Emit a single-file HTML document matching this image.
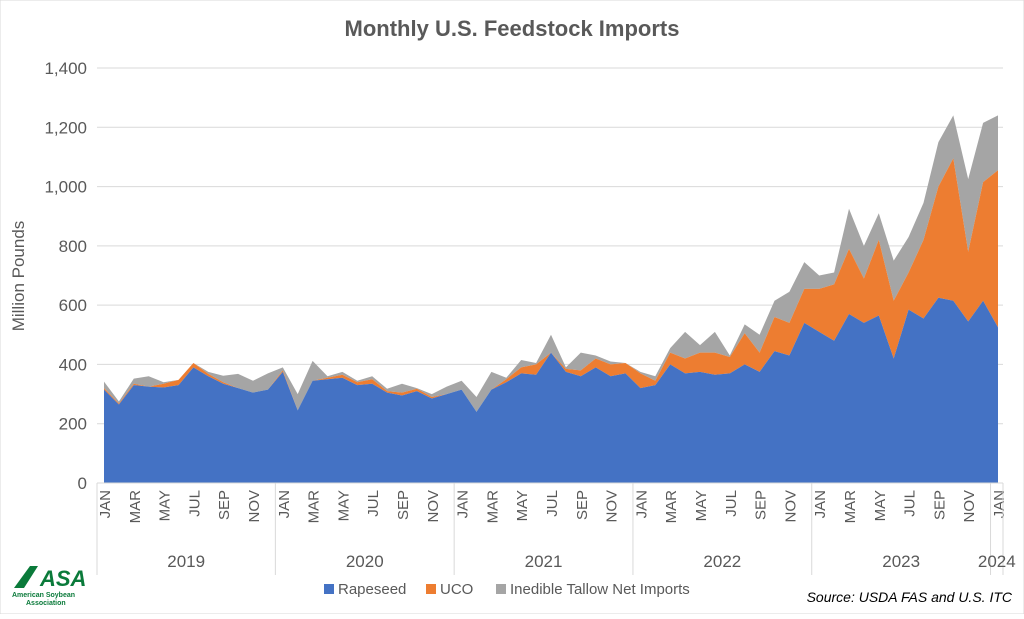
<!DOCTYPE html>
<html><head><meta charset="utf-8">
<style>
body{margin:0;background:#fff;font-family:"Liberation Sans",sans-serif;}
svg text{font-family:"Liberation Sans",sans-serif;fill:#595959;}
</style></head>
<body>
<svg width="1024" height="614" viewBox="0 0 1024 614">
<rect x="0" y="0" width="1024" height="614" fill="#fff" stroke="#d9d9d9"/>
<text x="512" y="36" text-anchor="middle" font-size="22" font-weight="bold">Monthly U.S. Feedstock Imports</text>
<text transform="translate(24,276) rotate(-90)" text-anchor="middle" font-size="17">Million Pounds</text>
<g id="grid"></g><g id="areas"></g><g id="axes"></g>
<g>
<rect x="324" y="584" width="10" height="10" fill="#4472c4"/>
<text x="338" y="594" font-size="15">Rapeseed</text>
<rect x="426" y="584" width="10" height="10" fill="#ed7d31"/>
<text x="440" y="594" font-size="15">UCO</text>
<rect x="496" y="584" width="10" height="10" fill="#a5a5a5"/>
<text x="510" y="594" font-size="15">Inedible Tallow Net Imports</text>
</g>
<text x="1012" y="602" text-anchor="end" font-size="14" font-style="italic" style="fill:#000">Source: USDA FAS and U.S. ITC</text>
<g>
<polygon points="14,588 30,566 38,566 24,588" fill="#0a7a3a"/>
<text x="40" y="586" font-size="22" font-weight="bold" font-style="italic" style="fill:#0a7a3a">ASA</text>
<text x="12" y="597" font-size="7" font-weight="bold" style="fill:#0a7a3a">American Soybean</text>
<text x="26" y="605" font-size="7" font-weight="bold" style="fill:#0a7a3a">Association</text>
</g>
</svg>
<script>
const months=["JAN","FEB","MAR","APR","MAY","JUN","JUL","AUG","SEP","OCT","NOV","DEC"];
const years=["2019","2020","2021","2022","2023"];
const yTicks=[0,200,400,600,800,1000,1200,1400];
const rapeseed=[315,265,330,325,322,330,390,360,335,320,305,315, 375,245,345,350,355,330,335,305,295,310,285,300, 315,240,315,340,370,365,440,375,360,390,360,370, 320,330,400,370,375,365,370,400,375,445,430,540, 510,480,570,540,565,420,585,555,625,615,545,615, 525];
const uco=[5,3,5,0,13,18,15,8,5,0,0,0, 5,0,0,5,10,10,15,5,10,8,5,0, 0,0,0,10,20,35,0,10,20,30,40,35, 50,15,40,50,65,75,55,105,65,115,110,115, 145,190,220,150,255,195,125,265,375,480,235,400, 530];
const tallow=[22,7,17,35,5,0,0,7,22,48,40,55, 10,55,67,5,10,5,10,8,30,2,10,25, 30,50,60,5,25,5,60,5,60,10,10,0, 5,15,15,90,25,70,5,30,60,55,105,90, 45,40,135,110,90,135,120,125,150,145,245,200, 185];
const NS="http://www.w3.org/2000/svg";
const x0=104,step=14.9,yBase=483,yTop=68,yMax=1400;
const X=i=>x0+i*step;
const Y=v=>yBase-(v/yMax)*(yBase-yTop);
function mk(tag,attrs,parent){const e=document.createElementNS(NS,tag);for(const k in attrs)e.setAttribute(k,attrs[k]);parent.appendChild(e);return e;}
const grid=document.getElementById('grid'),areas=document.getElementById('areas'),axes=document.getElementById('axes');
yTicks.forEach(t=>{
 const l=mk('line',{x1:97,x2:1003,y1:Y(t),y2:Y(t),stroke:'#d9d9d9','stroke-width':1},grid);
 
 
 const tx=mk('text',{x:87,y:Y(t)+6,'text-anchor':'end','font-size':17},grid);
 tx.textContent=t.toLocaleString('en-US');
 
 
});
const n=rapeseed.length;
const s1=rapeseed.slice(),s2=rapeseed.map((v,i)=>v+uco[i]),s3=s2.map((v,i)=>v+tallow[i]);
function area(top,bottom,color,name){
 let d='M'+X(0)+','+Y(top[0]);
 for(let i=1;i<n;i++)d+=' L'+X(i)+','+Y(top[i]);
 for(let i=n-1;i>=0;i--)d+=' L'+X(i)+','+Y(bottom?bottom[i]:0);
 const p=mk('path',{d:d+'Z',fill:color},areas);
 
 
}
area(s3,s2,'#a5a5a5','area-tallow');
area(s2,s1,'#ed7d31','area-uco');
area(s1,null,'#4472c4','area-rapeseed');
const ax=mk('line',{x1:97,x2:1003,y1:yBase,y2:yBase,stroke:'#d9d9d9'},axes);


for(let i=0;i<n;i++){
 if(i%2)continue;
 const m=months[i%12];
 const t=mk('text',{transform:'translate('+(X(i)+6)+',490) rotate(-90)','text-anchor':'end','font-size':15},axes);
 t.textContent=m;
 
 
}
const bounds=[97];
for(let k=1;k<=5;k++)bounds.push(X(12*k-0.5));
bounds.push(1003);
bounds.forEach((b,k)=>{
 const l=mk('line',{x1:b,x2:b,y1:yBase,y2:575,stroke:'#d9d9d9'},axes);
 
 
});
years.concat(["2024"]).forEach((yr,k)=>{
 const cx=(bounds[k]+bounds[k+1])/2;
 const t=mk('text',{x:cx,y:567,'text-anchor':'middle','font-size':17},axes);
 t.textContent=yr;
 
 
});
</script>
</body></html>
